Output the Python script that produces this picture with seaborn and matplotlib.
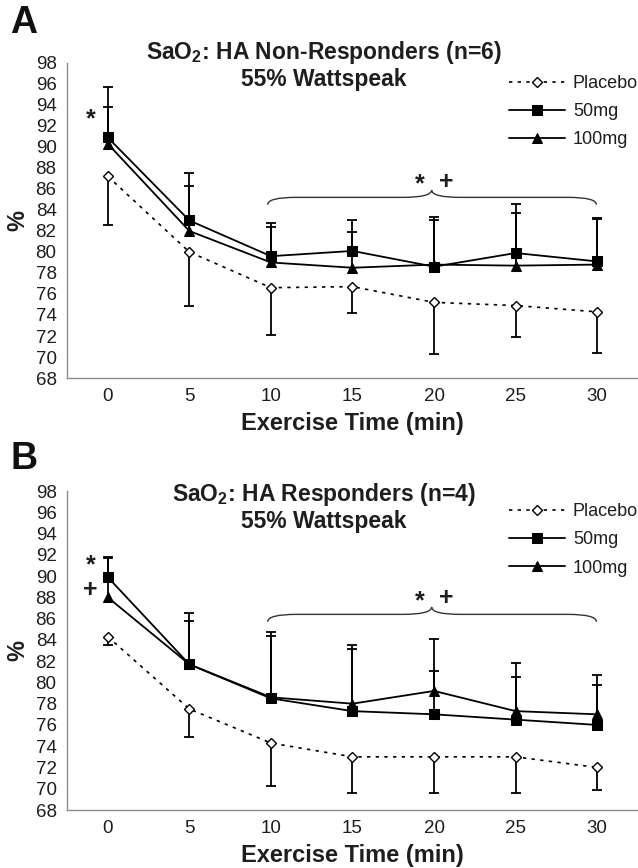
import numpy as np
import matplotlib
matplotlib.use("Agg")
import matplotlib.pyplot as plt
from matplotlib.path import Path
from matplotlib.patches import PathPatch
import seaborn as sns

sns.set_theme(style="white")
plt.rcParams["font.family"] = ["Liberation Sans", "DejaVu Sans"]
plt.rcParams["mathtext.fontset"] = "custom"
plt.rcParams["mathtext.rm"] = "Liberation Sans"
plt.rcParams["mathtext.bf"] = "Liberation Sans:bold"

# ---------------------------------------------------------------
# DATA
# ---------------------------------------------------------------
times = [0, 5, 10, 15, 20, 25, 30]
y_ticks = list(range(68, 99, 2))

# panel A: HA non-responders
placebo_a = [87.2, 80.0, 76.6, 76.7, 75.2, 74.9, 74.3]
placebo_a_lo = [82.6, 74.9, 72.1, 74.2, 70.3, 71.9, 70.4]
mg50_a = [90.9, 83.0, 79.6, 80.1, 78.6, 79.9, 79.1]
mg50_a_hi = [95.7, 87.5, 82.8, 83.0, 83.3, 84.6, 83.2]
mg100_a = [90.3, 82.0, 79.0, 78.5, 78.8, 78.7, 78.8]
mg100_a_hi = [93.8, 86.3, 82.4, 81.9, 83.0, 83.7, 83.1]

# panel B: HA responders
placebo_b = [84.3, 77.5, 74.3, 73.0, 73.0, 73.0, 72.0]
placebo_b_lo = [83.5, 74.9, 70.3, 69.6, 69.6, 69.6, 69.9]
mg50_b = [89.9, 81.7, 78.5, 77.3, 77.0, 76.5, 76.0]
mg50_b_hi = [91.8, 85.8, 84.4, 83.1, 81.1, 80.5, 79.8]
mg100_b = [88.0, 81.7, 78.6, 78.0, 79.2, 77.3, 77.0]
mg100_b_hi = [91.7, 86.5, 84.7, 83.5, 84.1, 81.8, 80.7]

panels = [
    dict(letter="A", title=r"SaO$_\mathbf{2}$: HA Non-Responders (n=6)",
         placebo=placebo_a, placebo_lo=placebo_a_lo,
         mg50=mg50_a, mg50_hi=mg50_a_hi, mg100=mg100_a, mg100_hi=mg100_a_hi,
         marks0=[("*", 92.6)], brace_y=85.2, title_y=(1.032, 0.946),
         rect=[0.105, 0.5645, 0.895, 0.363], letter_y=0.974),
    dict(letter="B", title=r"SaO$_\mathbf{2}$: HA Responders (n=4)",
         placebo=placebo_b, placebo_lo=placebo_b_lo,
         mg50=mg50_b, mg50_hi=mg50_b_hi, mg100=mg100_b, mg100_hi=mg100_b_hi,
         marks0=[("*", 91.0), ("+", 88.7)], brace_y=86.4, title_y=(0.99, 0.903),
         rect=[0.105, 0.0668, 0.895, 0.3675], letter_y=0.471),
]

AX_GRAY = "#8a8a8a"
TXT = "#1e1e1e"


def draw_brace(ax, x0, x1, xm, y, h, r=0.35):
    verts = [(x0, y - h), (x0, y), (x0 + r, y),
             (xm - r, y), (xm, y), (xm, y + h),
             (xm, y), (xm + r, y),
             (x1 - r, y), (x1, y), (x1, y - h)]
    codes = [Path.MOVETO, Path.CURVE3, Path.CURVE3,
             Path.LINETO, Path.CURVE3, Path.CURVE3,
             Path.CURVE3, Path.CURVE3,
             Path.LINETO, Path.CURVE3, Path.CURVE3]
    ax.add_patch(PathPatch(Path(verts, codes), fill=False, lw=1.0,
                           edgecolor="#333333", zorder=2))


def one_sided_err(ax, x, y, lim, upper):
    y = np.asarray(y)
    lim = np.asarray(lim)
    if upper:
        yerr = [np.zeros_like(y), lim - y]
    else:
        yerr = [y - lim, np.zeros_like(y)]
    _, caps, _ = ax.errorbar(x, y, yerr=yerr, fmt="none", ecolor="black",
                             elinewidth=1.3, capsize=3.8, capthick=1.3, zorder=1)
    # hide the cap on the zero-length side
    caps[0 if upper else 1].set_visible(False)


fig = plt.figure(figsize=(6.38, 8.68), dpi=100)

for p in panels:
    ax = fig.add_axes(p["rect"])
    pos = np.arange(len(times))

    one_sided_err(ax, pos, p["placebo"], p["placebo_lo"], upper=False)
    one_sided_err(ax, pos, p["mg50"], p["mg50_hi"], upper=True)
    one_sided_err(ax, pos, p["mg100"], p["mg100_hi"], upper=True)

    sns.lineplot(x=pos, y=p["placebo"], ax=ax, color="black", lw=1.2,
                 linestyle=(0, (2, 3.2)), marker="D", markersize=5.5,
                 markerfacecolor="white", markeredgecolor="black",
                 markeredgewidth=1.0, label="Placebo", zorder=3)
    sns.lineplot(x=pos, y=p["mg50"], ax=ax, color="black", lw=1.3,
                 marker="s", markersize=7, markeredgecolor="black",
                 label="50mg", zorder=4)
    sns.lineplot(x=pos, y=p["mg100"], ax=ax, color="black", lw=1.3,
                 marker="^", markersize=7.5, markeredgecolor="black",
                 label="100mg", zorder=4)

    # Excel-like categorical axis
    ax.set_xlim(-0.5, len(times) - 0.5)
    ax.set_ylim(min(y_ticks), max(y_ticks))
    ax.set_yticks(y_ticks)
    ax.set_xticks(pos)
    ax.set_xticklabels([str(t) for t in times])
    ax.set_xticks(np.arange(-0.5, len(times), 1.0), minor=True)
    ax.tick_params(axis="x", which="major", length=0, pad=7, labelsize=13.5,
                   labelcolor=TXT)
    ax.tick_params(axis="x", which="minor", length=5, width=1, color=AX_GRAY,
                   direction="out")
    ax.tick_params(axis="y", length=5, width=1, color=AX_GRAY, direction="out",
                   pad=2.5, labelsize=13.5, labelcolor=TXT)
    for s in ["top", "right"]:
        ax.spines[s].set_visible(False)
    for s in ["left", "bottom"]:
        ax.spines[s].set_color(AX_GRAY)
        ax.spines[s].set_linewidth(1.0)

    ax.set_xlabel("Exercise Time (min)", fontsize=17, fontweight="bold",
                  labelpad=5, color=TXT)
    ax.set_ylabel("%", fontsize=17, fontweight="bold", color=TXT, va="center")
    ax.yaxis.set_label_coords(-0.086, 0.5)

    ax.text(0.45, p["title_y"][0], p["title"], transform=ax.transAxes,
            ha="center", va="center", fontsize=16.5, fontweight="bold", color=TXT)
    ax.text(0.45, p["title_y"][1], "55% Wattspeak", transform=ax.transAxes,
            ha="center", va="center", fontsize=16.5, fontweight="bold", color=TXT)

    ax.legend(loc="upper right", bbox_to_anchor=(1.0, 0.962), frameon=False,
              fontsize=13, handlelength=3.1, handletextpad=0.45,
              labelspacing=0.62, borderaxespad=0, borderpad=0,
              labelcolor=TXT)

    # significance marks
    for sym, yv in p["marks0"]:
        ax.text(-0.21, yv, sym, ha="center", va="center", fontsize=18,
                fontweight="bold", color=TXT)
    by = p["brace_y"]
    draw_brace(ax, 1.96, 5.99, 3.97, by, 0.7)
    ax.text(3.82, by + 1.2, "*", ha="center", va="center", fontsize=18,
            fontweight="bold", color=TXT)
    ax.text(4.15, by + 1.5, "+", ha="center", va="center", fontsize=18,
            fontweight="bold", color=TXT)

    fig.text(0.0376, p["letter_y"], p["letter"], fontsize=27,
             fontweight="bold", ha="center", va="center", color="#111111")

fig.savefig("out.png", dpi=100)
